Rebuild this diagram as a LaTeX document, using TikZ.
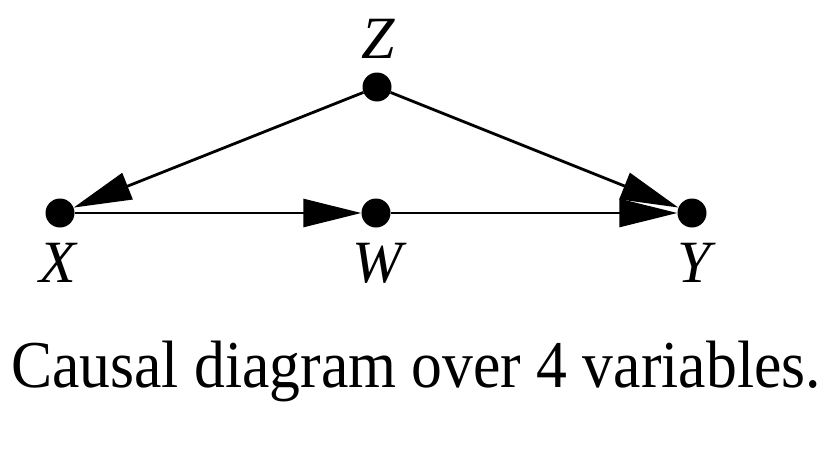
\documentclass[tikz,border=0pt]{standalone}
\usepackage{fontspec}
\setmainfont{Liberation Serif}
\usetikzlibrary{arrows.meta}
\begin{document}
\begin{tikzpicture}[x=1pt,y=-1pt,
  dot/.style={circle,fill=black,inner sep=0pt,minimum size=29pt},
  arr/.style={line width=2.8pt,-{Triangle[length=58pt,width=28pt]}},
  lbl/.style={anchor=base,inner sep=0pt,font=\fontsize{60}{70}\selectfont\itshape},
  captext/.style={anchor=base,inner sep=0pt,xscale=0.92,font=\fontsize{67}{78}\selectfont}]
\useasboundingbox (0,0) rectangle (830,458);
\node[dot] (z) at (377,87) {};
\node[dot] (x) at (60,213) {};
\node[dot] (w) at (376,213) {};
\node[dot] (y) at (692,213) {};
\node[lbl] (lz) at (378,58) {Z};
\node[lbl] (lx) at (58,282) {X};
\node[lbl] (lw) at (377,282) {W};
\node[lbl] (ly) at (694,282) {Y};
\node[captext] (caption) at (416,387) {Causal diagram over 4 variables.};
\draw[arr] (z) -- (x);
\draw[arr] (x) -- (w);
\draw[arr] (w) -- (y);
\draw[arr] (z) -- (y);
\end{tikzpicture}
\end{document}
